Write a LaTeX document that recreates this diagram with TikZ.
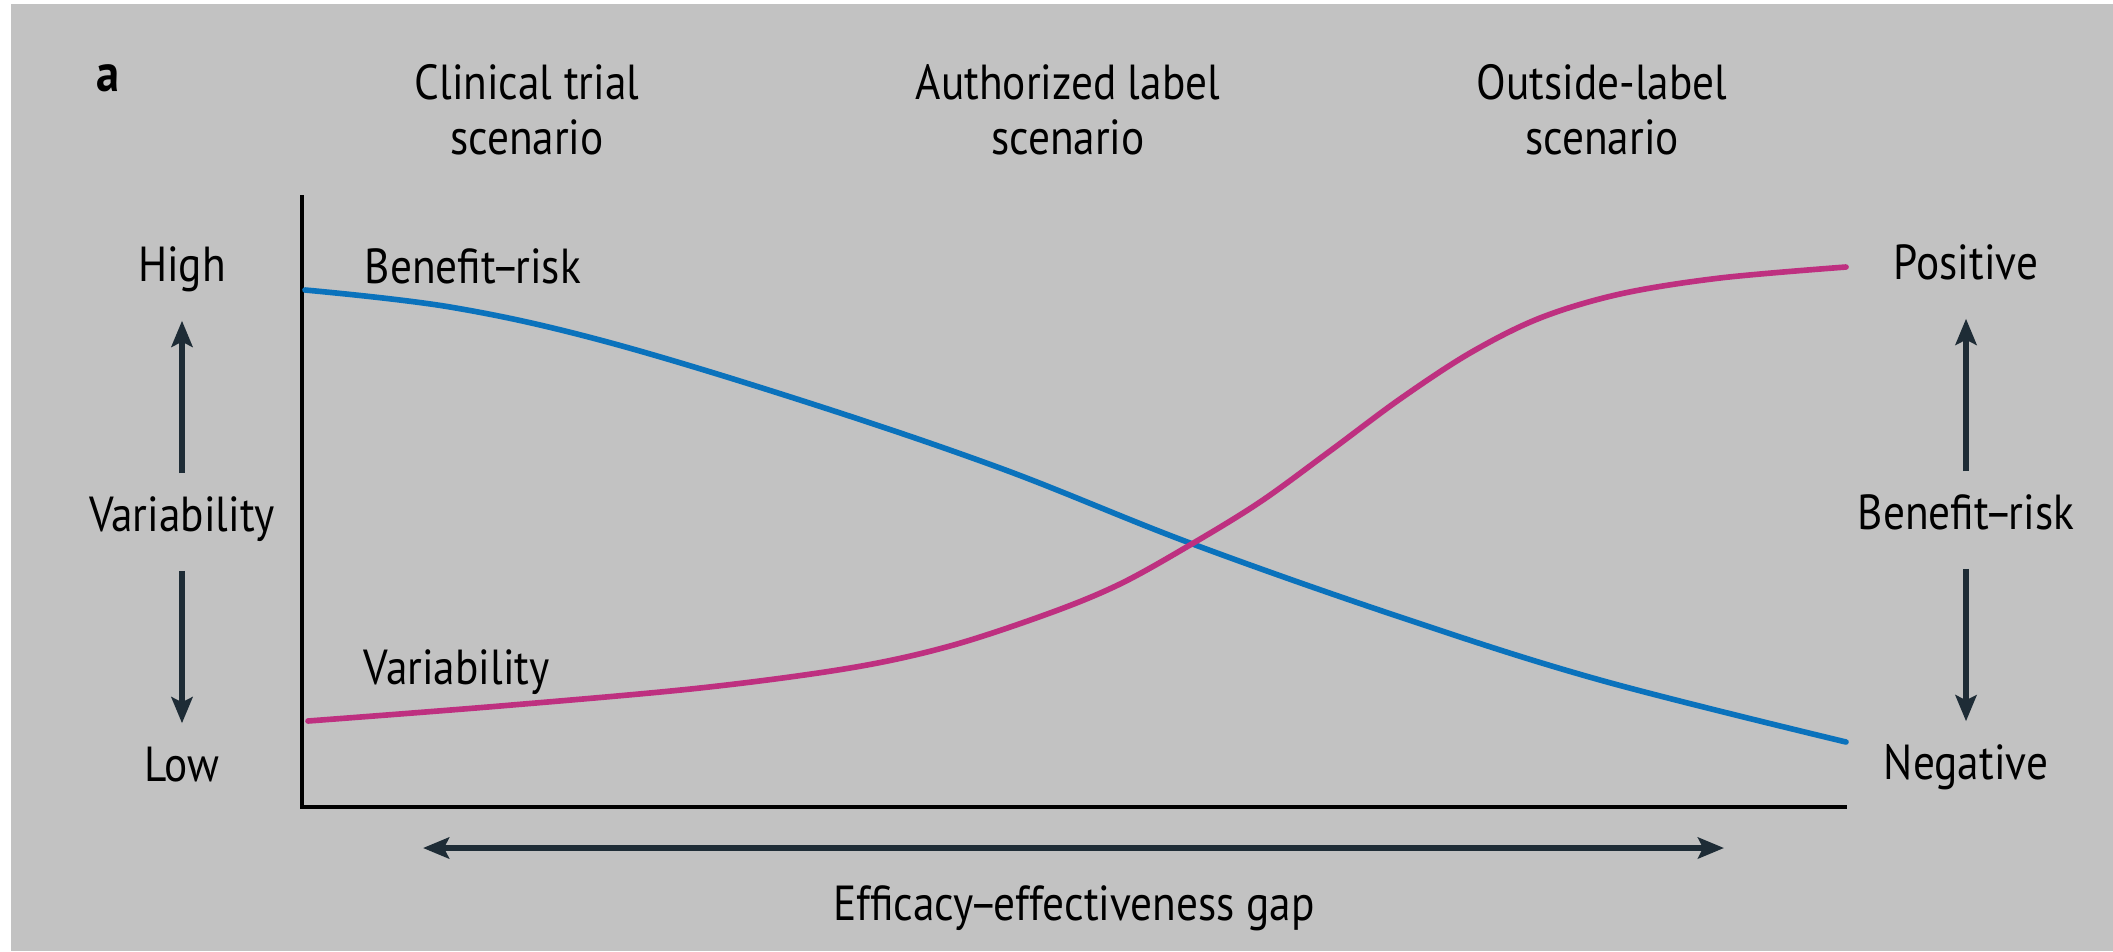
\documentclass[tikz,border=0pt]{standalone}
\usepackage{fontspec}
\setmainfont{PT Sans}[FakeStretch=0.88]
\usepackage{tikz}
\usetikzlibrary{arrows.meta, positioning}
\definecolor{panelgray}{RGB}{194,194,194}
\definecolor{riskblue}{RGB}{10,114,188}
\definecolor{varpink}{RGB}{190,48,128}
\definecolor{arrowdark}{RGB}{30,44,54}
\newcommand{\tightdash}{\kern-0.09em–\kern-0.09em}
\tikzstyle{axistext} = [inner sep=0pt, text height=0.72em, text depth=0.2em]
\tikzstyle{scenario} = [inner sep=0pt, align=center, font={\fontsize{14pt}{15.6pt}\selectfont}]
\tikzstyle{arrow} = [line width=1.9pt, draw=arrowdark, ->, >={Stealth[length=0.26cm, width=0.21cm, inset=0.05cm]}]
\tikzstyle{trend} = [line width=1.6pt, line cap=round]
\tikzset{
  font={\fontsize{14pt}{16pt}\selectfont}}

\begin{document}
\begin{tikzpicture}[x=0.01cm, y=-0.01cm, node distance=2.5cm]
    \useasboundingbox (0,0) rectangle (2113,951);
    \fill [panelgray] (11,4) rectangle (2113,951);

    \node (panel) [font={\fontsize{15pt}{16pt}\selectfont\bfseries}] at (108,78) {a};
    \node (clinical) [scenario] at (527,110) {Clinical trial\\scenario};
    \node (authorized) [scenario] at (1068,110) {Authorized label\\scenario};
    \node (outside) [scenario] at (1602,110) {Outside-label\\scenario};

    \node (varleft) [axistext] at (182,522) {Variability};
    \node (high) [axistext, above of=varleft] {High};
    \node (low) [axistext, below of=varleft] {Low};
    \node (riskright) [axistext] at (1966,520) {Benefit\tightdash risk};
    \node (positive) [axistext, above of=riskright] {Positive};
    \node (negative) [axistext, below of=riskright] {Negative};

    \draw [arrow, shorten <=0.32cm, shorten >=0.32cm] (varleft) -- (high);
    \draw [arrow, shorten <=0.32cm, shorten >=0.32cm] (varleft) -- (low);
    \draw [arrow, shorten <=0.32cm, shorten >=0.32cm] (riskright) -- (positive);
    \draw [arrow, shorten <=0.32cm, shorten >=0.32cm] (riskright) -- (negative);

    \coordinate (ytop) at (302,195);
    \coordinate (origin) at (302,807);
    \coordinate (xend) at (1847,807);
    \draw [line width=0.9pt] (ytop) -- (origin) -- (xend);

    % benefit-risk falls, variability rises
    \draw [trend, riskblue] plot [smooth, tension=0.6] coordinates {(305,290) (450,307) (600,340) (800,400) (1000,468) (1190,543) (1400,617) (1600,680) (1846,742)};
    \draw [trend, varpink] plot [smooth, tension=0.55] coordinates {(308,721) (500,706) (700,688) (850,668) (950,646) (1050,613) (1120,584) (1190,545) (1260,502) (1330,451) (1400,399) (1470,353) (1540,318) (1620,294) (1720,278) (1846,267)};
    \node (risklabel) [axistext, anchor=base west] at (364,283) {Benefit\tightdash risk};
    \node (varlabel) [axistext, anchor=base west] at (363,684) {Variability};

    \node (gaplabel) [axistext, anchor=base] at (1074,920) {Efficacy\tightdash effectiveness gap};
    \coordinate (gapstart) at (423,848);
    \coordinate (gapend) at (1724,848);
    \draw [arrow, <->] (gapstart) -- (gapend);
\end{tikzpicture}
\end{document}
